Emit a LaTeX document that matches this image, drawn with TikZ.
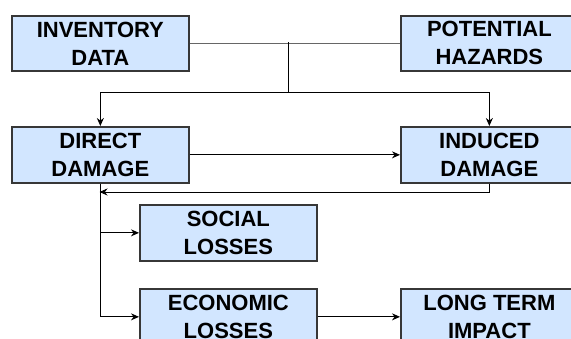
\documentclass[tikz,border=0pt]{standalone}
\usepackage{fontspec}
\setmainfont{Liberation Sans}
\usetikzlibrary{arrows.meta}
\definecolor{boxfill}{RGB}{210,230,255}
\definecolor{boxline}{RGB}{55,55,55}
\begin{document}
\begin{tikzpicture}[x=1pt,y=-1pt,
  box/.style={draw=boxline,line width=1.7pt,fill=boxfill,anchor=north west,
    minimum width=177pt,minimum height=56pt,inner sep=0pt,align=center,
    font=\fontsize{22}{28}\selectfont\bfseries},
  conn/.style={line width=0.9pt,draw=black},
  arr/.style={conn,-{Stealth[length=8pt,width=7pt]}}]
\useasboundingbox (0,0) rectangle (571,339);
\node[box,minimum height=55pt] (inv) at (11,15) {INVENTORY\\DATA};
\node[box,minimum height=55pt] (haz) at (400,15) {POTENTIAL\\HAZARDS};
\node[box] (dir) at (11,126) {DIRECT\\DAMAGE};
\node[box] (ind) at (400,126) {INDUCED\\DAMAGE};
\node[box] (soc) at (139,204) {SOCIAL\\LOSSES};
\node[box] (eco) at (139,288) {ECONOMIC\\LOSSES};
\node[box] (lt) at (400,288) {LONG TERM\\IMPACT};
\coordinate (j) at (288,42.5);
\coordinate (jd) at (288,92);
\coordinate (l) at (99.5,192);
\draw[conn,draw=black!60] (inv.east) -- (haz.west);
\draw[conn] (j) -- (jd);
\draw[arr] (jd) -| (dir.north);
\draw[arr] (jd) -| (ind.north);
\draw[arr] (dir.east) -- (ind.west);
\draw[arr] (ind.south) |- (l);
\draw[arr] (dir.south) |- (eco.west);
\draw[arr] (dir.south |- soc.west) -- (soc.west);
\draw[arr] (eco.east) -- (lt.west);
\end{tikzpicture}
\end{document}
